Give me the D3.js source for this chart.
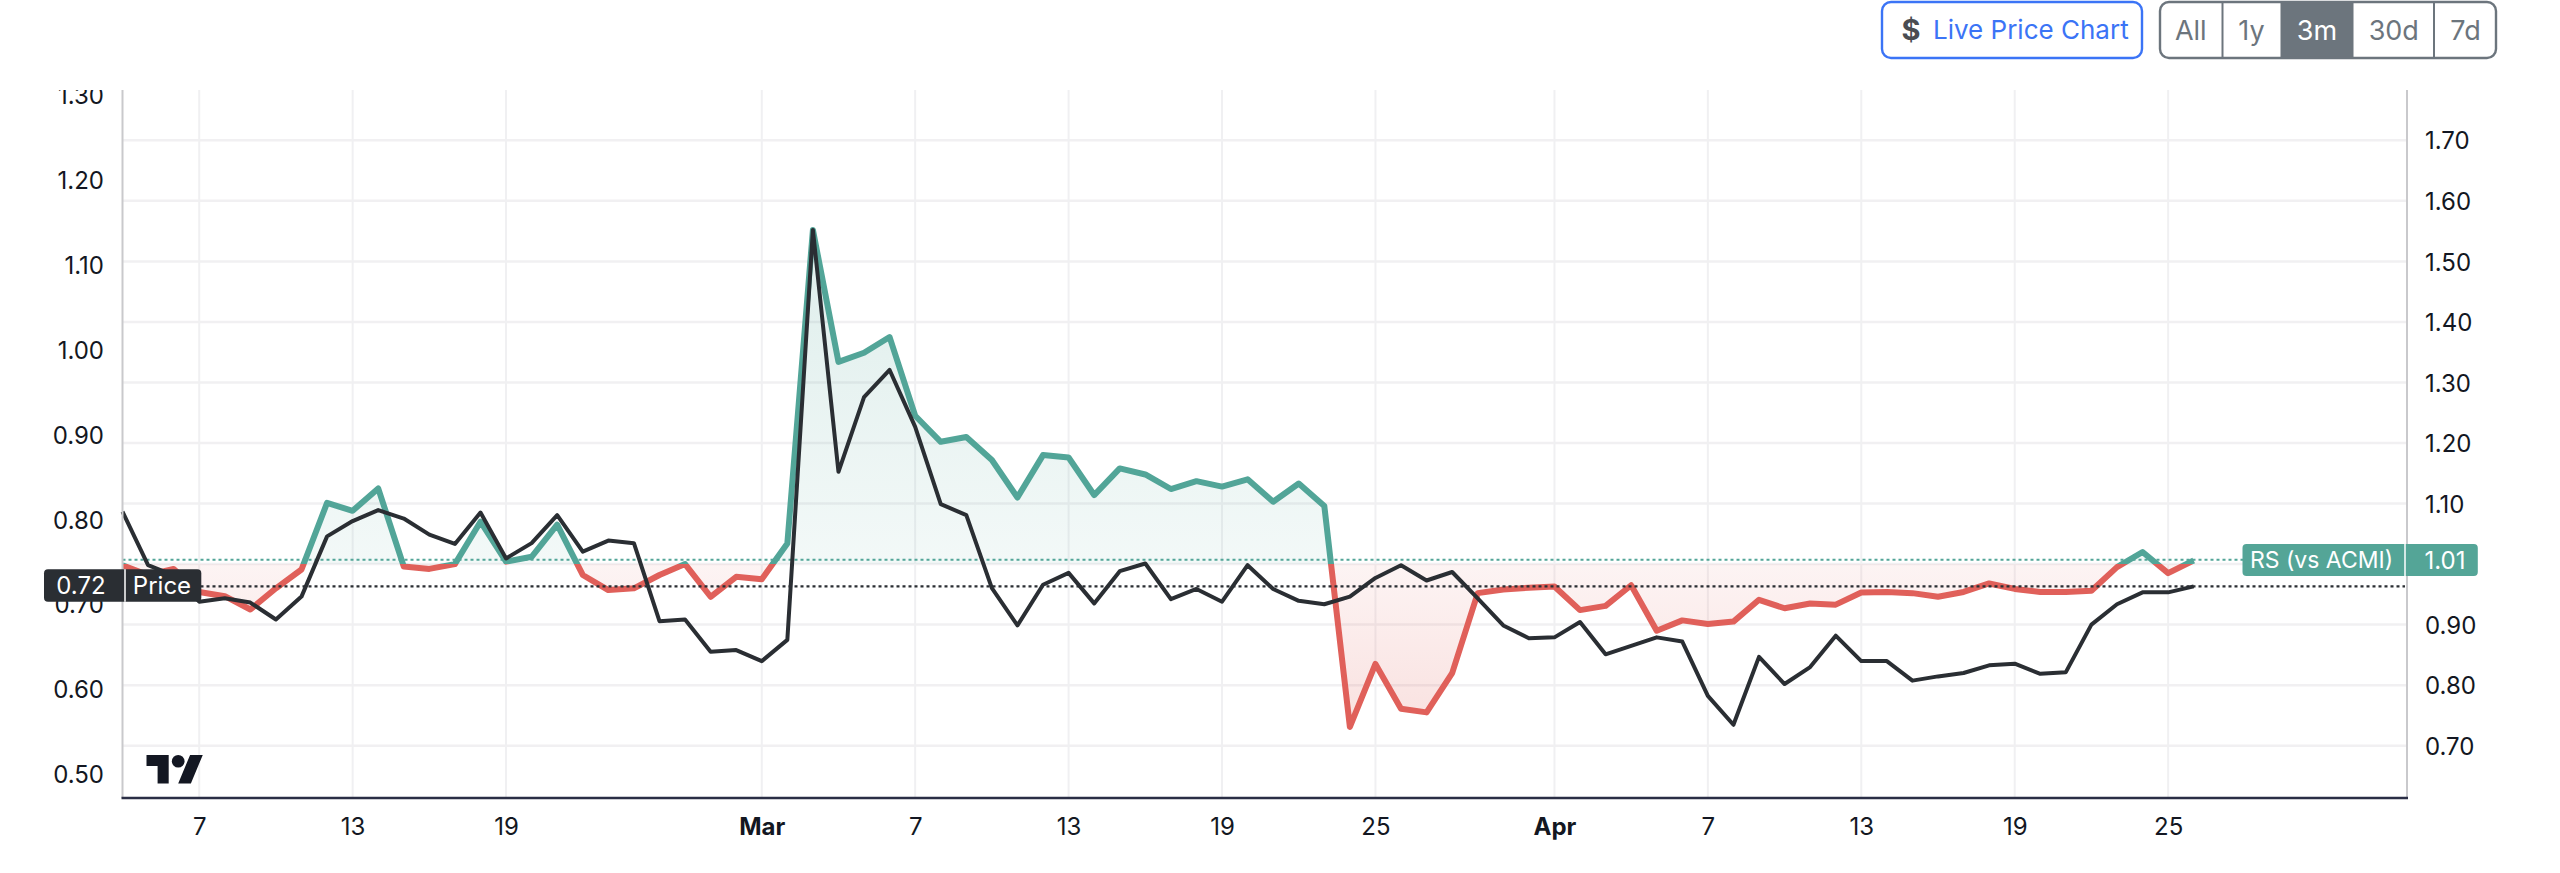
<!DOCTYPE html>
<html><head><meta charset="utf-8">
<script src="https://cdn.jsdelivr.net/npm/d3@7/dist/d3.min.js"></script>
<style>
html,body{margin:0;padding:0;background:#fff;overflow:hidden}
svg{display:block}
text{font-family:Inter,"Noto Sans",sans-serif}
</style></head><body>
<svg id="c" width="2560" height="873"></svg>
<script>
const startDate = "2023-02-04", endDate = "2023-04-26";
const rsValues = [0.998,0.982,0.992,0.954,0.947,0.925,0.960,0.991,1.101,1.088,1.125,0.996,0.992,1.000,1.070,1.004,1.012,1.065,0.982,0.957,0.960,0.982,1.000,0.946,0.979,
 0.975,1.034,1.552,1.334,1.349,1.375,1.245,1.202,1.210,1.172,1.110,1.180,1.176,1.114,1.158,1.148,1.124,1.137,1.128,1.140,1.103,1.133,1.096,0.731,0.835,0.761,0.755,0.820,0.952,0.958,0.961,
 0.963,0.924,0.931,0.965,0.890,0.907,0.901,0.905,0.941,0.927,0.935,0.933,0.953,0.954,0.952,0.946,0.954,0.968,0.959,0.954,0.954,0.956,0.995,1.020,0.985,1.006];
const priceValues = [0.809,0.746,0.734,0.703,0.707,0.702,0.682,0.709,0.780,0.798,0.811,0.801,0.782,0.771,0.808,0.754,0.772,0.805,0.762,0.775,0.772,0.680,0.682,0.644,0.646,
 0.633,0.658,1.141,0.856,0.944,0.976,0.909,0.818,0.805,0.719,0.675,0.723,0.737,0.701,0.739,0.748,0.706,0.718,0.703,0.746,0.718,0.704,0.700,0.709,0.731,0.746,0.728,0.738,0.707,0.675,0.660,
 0.661,0.679,0.641,0.651,0.661,0.656,0.592,0.558,0.638,0.606,0.626,0.663,0.633,0.633,0.610,0.615,0.619,0.628,0.630,0.618,0.620,0.676,0.700,0.714,0.714,0.721];
const leftTicks = [0.5,0.6,0.7,0.8,0.9,1.0,1.1,1.2,1.3];
const rightTicks = [0.7,0.8,0.9,1.0,1.1,1.2,1.3,1.4,1.5,1.6,1.7];
const rightLabelTicks = [0.7,0.8,0.9,1.1,1.2,1.3,1.4,1.5,1.6,1.7];
const xTickDates = ["2023-02-07","2023-02-13","2023-02-19","2023-03-01","2023-03-07","2023-03-13","2023-03-19","2023-03-25","2023-04-01","2023-04-07","2023-04-13","2023-04-19","2023-04-25"];
const xTickLabels = ["7","13","19","Mar","7","13","19","25","Apr","7","13","19","25"];
const baseValue = 1.0, lastRS = 1.007, lastPrice = 0.721;
const rangeButtons = ["All","1y","3m","30d","7d"];

const P = {l:122.5,r:2407,t:90,b:798};
const dates = d3.utcDay.range(new Date(startDate+"T00:00Z"), d3.utcDay.offset(new Date(endDate+"T00:00Z"),1));
const x = d3.scaleUtc().domain([dates[0],dates[dates.length-1]]).range([122.5,2193.7]);
const yL = d3.scaleLinear().domain([0.5,1.3]).range([774,95]);
const yR = d3.scaleLinear().domain([0.7,1.7]).range([745.7,140.3]);
const svg = d3.select("#c");
const TEAL="#52a598",RED="#e0605a",INK="#2a2e33";
const defs = svg.append("defs");
defs.append("clipPath").attr("id","pane").append("rect").attr("x",P.l).attr("y",P.t).attr("width",P.r-P.l).attr("height",P.b-P.t);
defs.append("clipPath").attr("id","above").append("rect").attr("x",P.l).attr("y",P.t).attr("width",P.r-P.l).attr("height",yR(baseValue)-P.t);
defs.append("clipPath").attr("id","below").append("rect").attr("x",P.l).attr("y",yR(baseValue)).attr("width",P.r-P.l).attr("height",P.b-yR(baseValue));
defs.append("clipPath").attr("id","leftclip").append("rect").attr("x",0).attr("y",P.t).attr("width",P.l).attr("height",P.b-P.t);
const gt=defs.append("linearGradient").attr("id","gt").attr("gradientUnits","userSpaceOnUse").attr("x1",0).attr("x2",0).attr("y1",yR(d3.max(rsValues))).attr("y2",yR(baseValue));
gt.append("stop").attr("offset",0).attr("stop-color",TEAL).attr("stop-opacity",0.19);
gt.append("stop").attr("offset",1).attr("stop-color",TEAL).attr("stop-opacity",0.07);
const gr=defs.append("linearGradient").attr("id","gr").attr("gradientUnits","userSpaceOnUse").attr("x1",0).attr("x2",0).attr("y1",yR(baseValue)).attr("y2",yR(d3.min(rsValues)));
gr.append("stop").attr("offset",0).attr("stop-color",RED).attr("stop-opacity",0.07);
gr.append("stop").attr("offset",1).attr("stop-color",RED).attr("stop-opacity",0.19);

// grid
const grid=svg.append("g");
grid.selectAll("line.h").data(rightTicks).join("line").attr("class","h")
 .attr("x1",P.l).attr("x2",P.r).attr("y1",d=>yR(d)).attr("y2",d=>yR(d)).attr("stroke","#f1f0f2").attr("stroke-width",2.5);
grid.selectAll("line.v").data(xTickDates).join("line").attr("class","v")
 .attr("x1",d=>x(new Date(d+"T00:00Z"))).attr("x2",d=>x(new Date(d+"T00:00Z"))).attr("y1",P.t).attr("y2",P.b).attr("stroke","#f0f0f2").attr("stroke-width",2);

// baseline series
const area=d3.area().x((d,i)=>x(dates[i])).y0(yR(baseValue)).y1(d=>yR(d));
const line=d3.line().x((d,i)=>x(dates[i])).y(d=>yR(d));
svg.append("path").attr("d",area(rsValues)).attr("fill","url(#gt)").attr("clip-path","url(#above)");
svg.append("path").attr("d",area(rsValues)).attr("fill","url(#gr)").attr("clip-path","url(#below)");
[["above",TEAL],["below",RED]].forEach(([c,col])=>{
 svg.append("g").attr("clip-path",`url(#${c})`).append("path").attr("d",line(rsValues)).attr("fill","none").attr("stroke",col).attr("stroke-width",6).attr("stroke-linejoin","round");
});
// dotted price lines
svg.append("line").attr("x1",P.l).attr("x2",2243).attr("y1",yR(lastRS)).attr("y2",yR(lastRS)).attr("stroke",TEAL).attr("stroke-width",2).attr("stroke-dasharray","3 3");
svg.append("line").attr("x1",P.l).attr("x2",2405).attr("y1",yL(lastPrice)).attr("y2",yL(lastPrice)).attr("stroke",INK).attr("stroke-width",2.2).attr("stroke-dasharray","3 3");
// price line
const pl=d3.line().x((d,i)=>x(dates[i])).y(d=>yL(d));
svg.append("path").attr("d",pl(priceValues)).attr("fill","none").attr("stroke",INK).attr("stroke-width",4).attr("stroke-linejoin","round");

// borders
svg.append("line").attr("x1",P.l).attr("x2",P.l).attr("y1",P.t).attr("y2",P.b).attr("stroke","#c9c9cc").attr("stroke-width",2);
svg.append("line").attr("x1",P.r).attr("x2",P.r).attr("y1",P.t).attr("y2",P.b).attr("stroke","#c9c9cc").attr("stroke-width",2);
svg.append("line").attr("x1",P.l-1).attr("x2",P.r+1).attr("y1",P.b).attr("y2",P.b).attr("stroke","#2a2e45").attr("stroke-width",2.5);

// axes
const fs=24, tc="#131722";
const al=svg.append("g").attr("clip-path","url(#leftclip)").append("g").attr("transform","translate(104,0)")
 .call(d3.axisLeft(yL).tickValues(leftTicks).tickFormat(d3.format(".2f")).tickSize(0).tickPadding(0));
const ar=svg.append("g").attr("transform","translate(2425,0)")
 .call(d3.axisRight(yR).tickValues(rightLabelTicks).tickFormat(d3.format(".2f")).tickSize(0).tickPadding(0));
const xMap=new Map(xTickDates.map((d,i)=>[+new Date(d+"T00:00Z"),xTickLabels[i]]));
const ax=svg.append("g").attr("transform","translate(0,826)")
 .call(d3.axisBottom(x).tickValues(xTickDates.map(d=>new Date(d+"T00:00Z"))).tickFormat(d=>xMap.get(+d)).tickSize(0).tickPadding(0));
[al,ar,ax].forEach(g=>{g.select(".domain").remove();g.selectAll("text").attr("font-size",fs).attr("fill",tc).attr("font-family","Inter,'Noto Sans',sans-serif").attr("dy","0.36em");});
ax.selectAll("text").attr("y",0).attr("font-weight",d=>/[A-Z]/.test(xMap.get(+d))?700:400);

// TradingView logo
const logo=svg.append("g").attr("transform","translate(146.5,748.6) scale(1.585)").attr("fill","#131722");
logo.append("path").attr("d","M14 22H7V11H0V4h14v18zM28 22h-8l7.5-18h8L28 22z");
logo.append("circle").attr("cx",20).attr("cy",8).attr("r",4);

// last value labels
function tag(x0,x1,xd,y0,y1,col,t1,c1,t2,c2,s1){
 const g=svg.append("g");
 g.append("rect").attr("x",x0).attr("y",y0).attr("width",x1-x0).attr("height",y1-y0).attr("rx",4).attr("fill",col);
 g.append("line").attr("x1",xd).attr("x2",xd).attr("y1",y0).attr("y2",y1).attr("stroke","#fff").attr("stroke-width",1.5);
 [[t1,c1,s1],[t2,c2,fs]].forEach(([t,c,s])=>g.append("text").attr("x",c).attr("y",(y0+y1)/2).attr("dy","0.36em").attr("text-anchor","middle").attr("font-size",s).attr("fill","#fff").text(t));
}
tag(44,201.3,125,569.3,601.7,INK,d3.format(".2f")(lastPrice),81,"Price",162,24);
tag(2242.5,2477.8,2405,544,576,"#54a597","RS (vs ACMI)",2321.5,d3.format(".2f")(lastRS),2445,23);

// buttons
const bt=svg.append("g");
bt.append("rect").attr("x",1882).attr("y",2).attr("width",260).attr("height",56).attr("rx",9).attr("fill","#fff").attr("stroke","#3b74f6").attr("stroke-width",2.4);
bt.append("text").attr("x",1911).attr("y",30).attr("dy","0.36em").attr("text-anchor","middle").attr("font-size",29).attr("font-weight",700).attr("fill","#4a4d52").text("$");
bt.append("text").attr("x",1933).attr("y",30).attr("dy","0.36em").attr("font-size",26).attr("fill","#3b74f6").text("Live Price Chart");
const bx=[2159,2222.5,2280.5,2353.5,2434,2497];
bt.append("rect").attr("x",bx[2]).attr("y",2).attr("width",bx[3]-bx[2]).attr("height",56).attr("fill","#6c757d");
bt.append("rect").attr("x",bx[0]+1).attr("y",2).attr("width",bx[5]-bx[0]-2).attr("height",56).attr("rx",9).attr("fill","none").attr("stroke","#6c757d").attr("stroke-width",2.4);
[1,4].forEach(i=>bt.append("line").attr("x1",bx[i]).attr("x2",bx[i]).attr("y1",2).attr("y2",58).attr("stroke","#6c757d").attr("stroke-width",2));
rangeButtons.forEach((t,i)=>bt.append("text").attr("x",(bx[i]+bx[i+1])/2).attr("y",30).attr("dy","0.36em").attr("text-anchor","middle").attr("font-size",27).attr("fill",t==="3m"?"#fff":"#6c757d").text(t));
</script>
</body></html>
